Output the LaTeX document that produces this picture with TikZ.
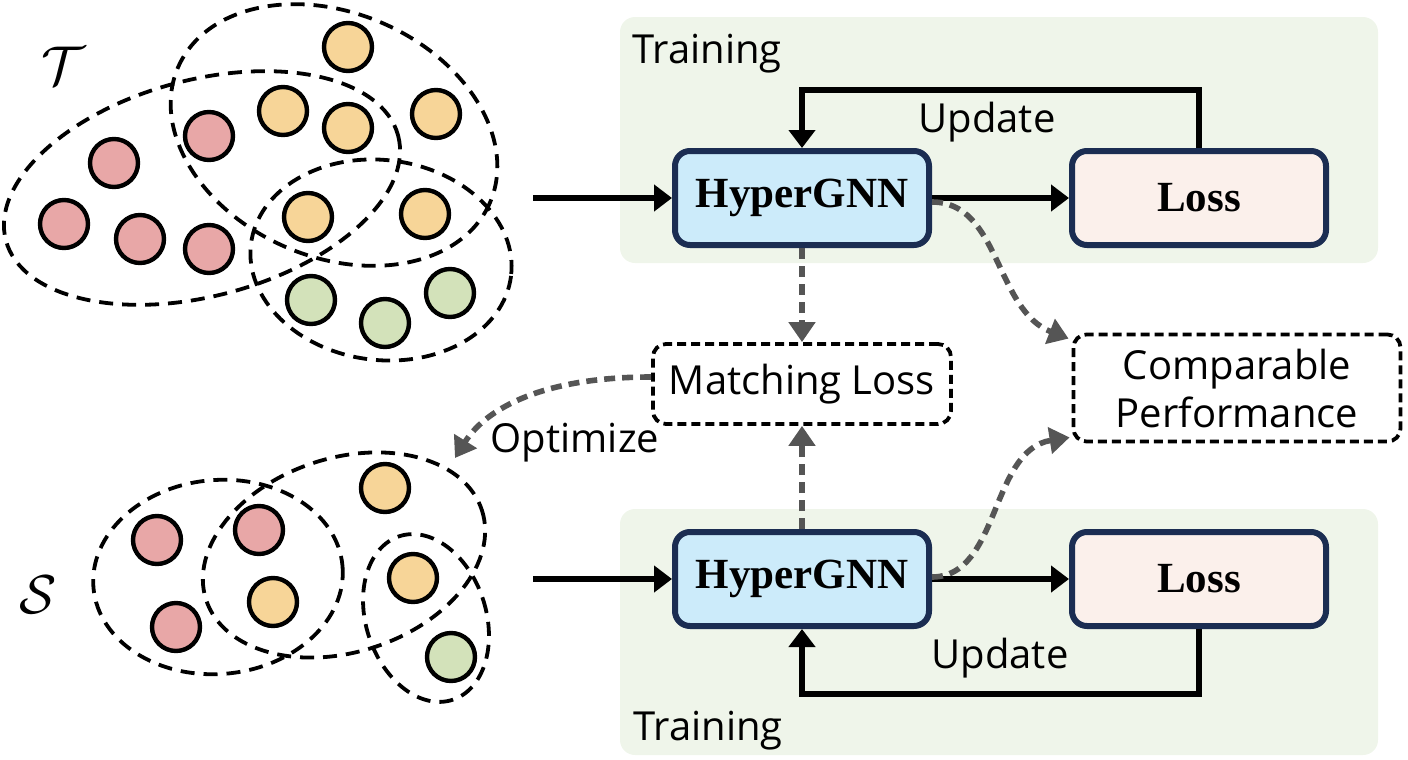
\documentclass[tikz,border=0pt]{standalone}
\usepackage{fontspec}
\setmainfont{Open Sans}
\newfontfamily\gnnfont{Liberation Serif}
\usetikzlibrary{arrows.meta,positioning}
\definecolor{panelbg}{HTML}{EFF5EA}
\definecolor{gnnblue}{HTML}{CCEBFA}
\definecolor{losspink}{HTML}{FBF0EB}
\definecolor{navy}{HTML}{1B2D52}
\definecolor{nodered}{HTML}{E8A7A7}
\definecolor{nodeorange}{HTML}{F7D598}
\definecolor{nodegreen}{HTML}{D3E2BA}
\definecolor{linkgray}{HTML}{555555}

\begin{document}
\begin{tikzpicture}[x=0.5pt,y=-0.5pt,
    font=\fontsize{20}{24}\selectfont,
    panel/.style={fill=panelbg, rounded corners=7.5pt},
    hedge/.style={draw, line width=1.9pt, dash pattern=on 7pt off 4.5pt},
    vtx/.style={circle, draw, line width=2.2pt, minimum size=24pt, inner sep=0pt},
    redv/.style={vtx, fill=nodered},
    orgv/.style={vtx, fill=nodeorange},
    grnv/.style={vtx, fill=nodegreen},
    model/.style={draw=navy, line width=3pt, rounded corners=7.5pt, fill=gnnblue,
      minimum width=127pt, minimum height=47pt,
      font=\gnnfont\fontsize{21.5}{24}\selectfont\bfseries},
    lossbox/.style={model, fill=losspink},
    note/.style={draw, line width=1.9pt, dash pattern=on 4.5pt off 2.5pt,
      rounded corners=6.5pt, minimum width=149pt, minimum height=40pt},
    flow/.style={line width=2.7pt, -{Triangle[width=13pt,length=9pt]}},
    link/.style={linkgray, line width=2.8pt, dash pattern=on 5.5pt off 3.5pt,
      -{Triangle[width=13pt,length=10pt]}}]
  \useasboundingbox (0,0) rectangle (1408,760);
  \fill[panel] (620,17) rectangle (1378,263);
  \fill[panel] (620,509) rectangle (1378,755);

  \node[scale=1.1] (lblT) at (63,66) {\Huge$\mathcal{T}$};
  \draw[hedge, rotate around={15:(202,188)}] (202,188) ellipse [x radius=203, y radius=108];
  \draw[hedge, rotate around={-23.5:(334,135)}] (334,135) ellipse [x radius=170, y radius=122];
  \draw[hedge, rotate around={-7:(381,260)}] (381,260) ellipse [x radius=131, y radius=100];
  \node[redv] (t1) at (114,163) {};
  \node[redv] (t2) at (64,224) {};
  \node[redv] (t3) at (140,239) {};
  \node[redv] (t4) at (209,249) {};
  \node[redv] (t5) at (209,136) {};
  \node[orgv] (t6) at (283,111) {};
  \node[orgv] (t7) at (348,128) {};
  \node[orgv] (t8) at (348,47) {};
  \node[orgv] (t9) at (436,114) {};
  \node[orgv] (t10) at (308,217) {};
  \node[orgv] (t11) at (425,214) {};
  \node[grnv] (t12) at (311,300) {};
  \node[grnv] (t13) at (385,323) {};
  \node[grnv] (t14) at (450,293) {};

  \node[scale=1.1] (lblS) at (38,595) {\Huge$\mathcal{S}$};
  \draw[hedge, rotate around={5:(218,577)}] (218,577) ellipse [x radius=125, y radius=97];
  \draw[hedge, rotate around={18:(344,555)}] (344,555) ellipse [x radius=145, y radius=97];
  \draw[hedge, rotate around={18:(426,618)}] (426,618) ellipse [x radius=60, y radius=86];
  \node[redv] (s1) at (157,540) {};
  \node[redv] (s2) at (176,627) {};
  \node[redv] (s3) at (259,530) {};
  \node[orgv] (s4) at (273,602) {};
  \node[orgv] (s5) at (385,488) {};
  \node[orgv] (s6) at (413,578) {};
  \node[grnv] (s7) at (451,657) {};

  \node[anchor=base west, inner sep=0pt] (trainT) at (632,63) {Training};
  \node[anchor=base west, inner sep=0pt] (trainB) at (633,740) {Training};
  \node[model] (gnnT) at (802,198) {HyperGNN};
  \node[lossbox] (lossT) at (1199,198) {Loss};
  \node[model] (gnnB) at (802,579) {HyperGNN};
  \node[lossbox] (lossB) at (1199,579) {Loss};
  \node[note] (match) at (802,384) {Matching Loss};
  \node[note, minimum width=163.5pt, minimum height=53.5pt, align=center] (comp) at (1237,388) {Comparable\\Performance};
  \node (updT) at (987,122) {Update};
  \node (updB) at (1000,658) {Update};
  \node (opt) at (575,443) {Optimize};

  \coordinate (inT) at (533,198);
  \coordinate (inB) at (533,579);
  \coordinate (optEnd) at (455,458);
  \draw[flow] (inT) -- (gnnT);
  \draw[flow] (gnnT) -- (lossT);
  \draw[flow] (lossT.north) -- ++(0,-58) -| (gnnT.north);
  \draw[flow] (inB) -- (gnnB);
  \draw[flow] (gnnB) -- (lossB);
  \draw[flow] (lossB.south) -- ++(0,65) -| (gnnB.south);

  \draw[link] (gnnT) -- (match);
  \draw[link] (gnnB) -- (match);
  \draw[link] ([yshift=-2pt]gnnT.east) .. controls (1000,202) and (995,310) .. ([shift={(-3,6)}]comp.north west);
  \draw[link] ([yshift=1pt]gnnB.east) .. controls (1000,577) and (990,450) .. ([shift={(-2,-6)}]comp.south west);
  \draw[link] ([yshift=3.5pt]match.west) .. controls (540,377) and (485,410) .. (optEnd);
\end{tikzpicture}
\end{document}
